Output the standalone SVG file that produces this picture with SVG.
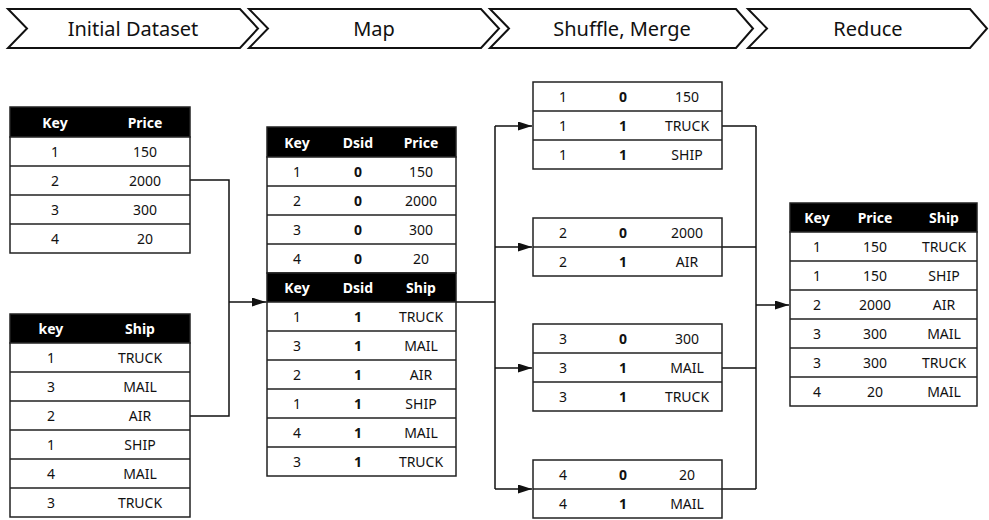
<svg xmlns="http://www.w3.org/2000/svg" width="989" height="520" viewBox="0 0 989 520">
<style>
.chev{fill:#fff;stroke:#111;stroke-width:2}
.title{font-family:"Noto Sans","Open Sans",sans-serif;font-size:20px;fill:#111;text-anchor:middle;dominant-baseline:central}
.box{fill:#fff;stroke:#222;stroke-width:1.5}
.hd{fill:#000;stroke:#222;stroke-width:1.5}
.ln{stroke:#222;stroke-width:1.5}
.t{font-family:"Noto Sans","Open Sans",sans-serif;font-size:14px;fill:#111;text-anchor:middle;dominant-baseline:central}
.b{font-weight:bold}
.h{font-family:"Noto Sans","Open Sans",sans-serif;font-size:14px;font-weight:bold;fill:#fff;text-anchor:middle;dominant-baseline:central}
.c{fill:none;stroke:#111;stroke-width:1.5}
</style>
<defs>
<marker id="ah" markerUnits="userSpaceOnUse" markerWidth="16" markerHeight="10" refX="14" refY="4.5" orient="auto">
<path d="M0,0 L14,4.5 L0,9 z" fill="#111"/>
</marker>
</defs>

<g id="stage-initial">
<polygon class="chev" points="8,9 240,9 258,28.5 240,48 8,48 27,28.5"/>
<text class="title" x="133" y="28">Initial Dataset</text>
</g>
<g id="stage-map">
<polygon class="chev" points="249,9 481,9 499,28.5 481,48 249,48 268,28.5"/>
<text class="title" x="374" y="28">Map</text>
</g>
<g id="stage-shuffle">
<polygon class="chev" points="490,9 736,9 753,28.5 736,48 490,48 509,28.5"/>
<text class="title" x="622" y="28">Shuffle, Merge</text>
</g>
<g id="stage-reduce">
<polygon class="chev" points="748,9 970,9 987,28.5 970,48 748,48 767,28.5"/>
<text class="title" x="868" y="28">Reduce</text>
</g>

<g id="connectors">
<path class="c" d="M190,180 H229 V416 H190"/>
<path class="c" d="M229,302 H266" marker-end="url(#ah)"/>
<path class="c" d="M456,302 H495"/>
<path class="c" d="M495,126 V489"/>
<path class="c" d="M495,126 H532" marker-end="url(#ah)"/>
<path class="c" d="M495,247 H532" marker-end="url(#ah)"/>
<path class="c" d="M495,368 H532" marker-end="url(#ah)"/>
<path class="c" d="M495,489 H532" marker-end="url(#ah)"/>
<path class="c" d="M722,126 H756 M722,247 H756 M722,368 H756 M722,489 H756 M756,126 V489"/>
<path class="c" d="M756,305 H789" marker-end="url(#ah)"/>
</g>

<g id="table-price">
<rect class="hd" x="10" y="107" width="180" height="30"/>
<rect class="box" x="10" y="137" width="180" height="116"/>
<path class="ln" d="M10,166 H190 M10,195 H190 M10,224 H190"/>
<text class="h" x="55" y="122">Key</text><text class="h" x="145" y="122">Price</text>
<text class="t" x="55" y="151.5">1</text><text class="t" x="145" y="151.5">150</text>
<text class="t" x="55" y="180.5">2</text><text class="t" x="145" y="180.5">2000</text>
<text class="t" x="55" y="209.5">3</text><text class="t" x="145" y="209.5">300</text>
<text class="t" x="55" y="238.5">4</text><text class="t" x="145" y="238.5">20</text>
</g>

<g id="table-ship">
<rect class="hd" x="10" y="314" width="180" height="29"/>
<rect class="box" x="10" y="343" width="180" height="174"/>
<path class="ln" d="M10,372 H190 M10,401 H190 M10,430 H190 M10,459 H190 M10,488 H190"/>
<text class="h" x="51" y="328.5">key</text><text class="h" x="140" y="328.5">Ship</text>
<text class="t" x="51" y="357.5">1</text><text class="t" x="140" y="357.5">TRUCK</text>
<text class="t" x="51" y="386.5">3</text><text class="t" x="140" y="386.5">MAIL</text>
<text class="t" x="51" y="415.5">2</text><text class="t" x="140" y="415.5">AIR</text>
<text class="t" x="51" y="444.5">1</text><text class="t" x="140" y="444.5">SHIP</text>
<text class="t" x="51" y="473.5">4</text><text class="t" x="140" y="473.5">MAIL</text>
<text class="t" x="51" y="502.5">3</text><text class="t" x="140" y="502.5">TRUCK</text>
</g>

<g id="table-map">
<rect class="hd" x="267" y="127" width="189" height="30"/>
<rect class="box" x="267" y="157" width="189" height="116"/>
<path class="ln" d="M267,186 H456 M267,215 H456 M267,244 H456"/>
<rect class="hd" x="267" y="273" width="189" height="29"/>
<rect class="box" x="267" y="302" width="189" height="174"/>
<path class="ln" d="M267,331 H456 M267,360 H456 M267,389 H456 M267,418 H456 M267,447 H456"/>
<text class="h" x="297" y="142">Key</text><text class="h" x="358" y="142">Dsid</text><text class="h" x="421" y="142">Price</text>
<text class="t" x="297" y="171.5">1</text><text class="t b" x="358" y="171.5">0</text><text class="t" x="421" y="171.5">150</text>
<text class="t" x="297" y="200.5">2</text><text class="t b" x="358" y="200.5">0</text><text class="t" x="421" y="200.5">2000</text>
<text class="t" x="297" y="229.5">3</text><text class="t b" x="358" y="229.5">0</text><text class="t" x="421" y="229.5">300</text>
<text class="t" x="297" y="258.5">4</text><text class="t b" x="358" y="258.5">0</text><text class="t" x="421" y="258.5">20</text>
<text class="h" x="297" y="287.5">Key</text><text class="h" x="358" y="287.5">Dsid</text><text class="h" x="421" y="287.5">Ship</text>
<text class="t" x="297" y="316.5">1</text><text class="t b" x="358" y="316.5">1</text><text class="t" x="421" y="316.5">TRUCK</text>
<text class="t" x="297" y="345.5">3</text><text class="t b" x="358" y="345.5">1</text><text class="t" x="421" y="345.5">MAIL</text>
<text class="t" x="297" y="374.5">2</text><text class="t b" x="358" y="374.5">1</text><text class="t" x="421" y="374.5">AIR</text>
<text class="t" x="297" y="403.5">1</text><text class="t b" x="358" y="403.5">1</text><text class="t" x="421" y="403.5">SHIP</text>
<text class="t" x="297" y="432.5">4</text><text class="t b" x="358" y="432.5">1</text><text class="t" x="421" y="432.5">MAIL</text>
<text class="t" x="297" y="461.5">3</text><text class="t b" x="358" y="461.5">1</text><text class="t" x="421" y="461.5">TRUCK</text>
</g>

<g id="group-key1">
<rect class="box" x="533" y="82" width="189" height="87"/>
<path class="ln" d="M533,111 H722 M533,140 H722"/>
<text class="t" x="563" y="96.5">1</text><text class="t b" x="623" y="96.5">0</text><text class="t" x="687" y="96.5">150</text>
<text class="t" x="563" y="125.5">1</text><text class="t b" x="623" y="125.5">1</text><text class="t" x="687" y="125.5">TRUCK</text>
<text class="t" x="563" y="154.5">1</text><text class="t b" x="623" y="154.5">1</text><text class="t" x="687" y="154.5">SHIP</text>
</g>

<g id="group-key2">
<rect class="box" x="533" y="218" width="189" height="58"/>
<path class="ln" d="M533,247 H722"/>
<text class="t" x="563" y="232.5">2</text><text class="t b" x="623" y="232.5">0</text><text class="t" x="687" y="232.5">2000</text>
<text class="t" x="563" y="261.5">2</text><text class="t b" x="623" y="261.5">1</text><text class="t" x="687" y="261.5">AIR</text>
</g>

<g id="group-key3">
<rect class="box" x="533" y="324" width="189" height="87"/>
<path class="ln" d="M533,353 H722 M533,382 H722"/>
<text class="t" x="563" y="338.5">3</text><text class="t b" x="623" y="338.5">0</text><text class="t" x="687" y="338.5">300</text>
<text class="t" x="563" y="367.5">3</text><text class="t b" x="623" y="367.5">1</text><text class="t" x="687" y="367.5">MAIL</text>
<text class="t" x="563" y="396.5">3</text><text class="t b" x="623" y="396.5">1</text><text class="t" x="687" y="396.5">TRUCK</text>
</g>

<g id="group-key4">
<rect class="box" x="533" y="460" width="189" height="58"/>
<path class="ln" d="M533,489 H722"/>
<text class="t" x="563" y="474.5">4</text><text class="t b" x="623" y="474.5">0</text><text class="t" x="687" y="474.5">20</text>
<text class="t" x="563" y="503.5">4</text><text class="t b" x="623" y="503.5">1</text><text class="t" x="687" y="503.5">MAIL</text>
</g>

<g id="table-reduce">
<rect class="hd" x="790" y="203" width="187" height="29"/>
<rect class="box" x="790" y="232" width="187" height="174"/>
<path class="ln" d="M790,261 H977 M790,290 H977 M790,319 H977 M790,348 H977 M790,377 H977"/>
<text class="h" x="817" y="217.5">Key</text><text class="h" x="875" y="217.5">Price</text><text class="h" x="944" y="217.5">Ship</text>
<text class="t" x="817" y="246.5">1</text><text class="t" x="875" y="246.5">150</text><text class="t" x="944" y="246.5">TRUCK</text>
<text class="t" x="817" y="275.5">1</text><text class="t" x="875" y="275.5">150</text><text class="t" x="944" y="275.5">SHIP</text>
<text class="t" x="817" y="304.5">2</text><text class="t" x="875" y="304.5">2000</text><text class="t" x="944" y="304.5">AIR</text>
<text class="t" x="817" y="333.5">3</text><text class="t" x="875" y="333.5">300</text><text class="t" x="944" y="333.5">MAIL</text>
<text class="t" x="817" y="362.5">3</text><text class="t" x="875" y="362.5">300</text><text class="t" x="944" y="362.5">TRUCK</text>
<text class="t" x="817" y="391.5">4</text><text class="t" x="875" y="391.5">20</text><text class="t" x="944" y="391.5">MAIL</text>
</g>
</svg>
